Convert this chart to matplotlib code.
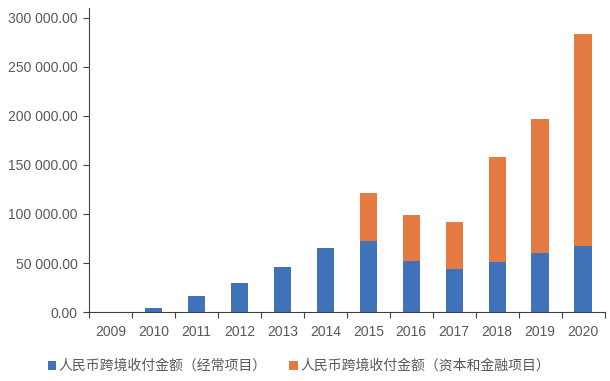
import matplotlib
matplotlib.use("Agg")
import matplotlib.pyplot as plt
import numpy as np
from matplotlib.ticker import FuncFormatter

plt.rcParams["font.family"] = ["Liberation Sans", "Noto Sans CJK SC", "DejaVu Sans"]

years = ["2009", "2010", "2011", "2012", "2013", "2014", "2015", "2016", "2017", "2018", "2019", "2020"]
current_account = [36, 3800, 15889, 29380, 46300, 65500, 72300, 52300, 43600, 51100, 60000, 67700]
capital_financial = [0, 0, 0, 0, 0, 0, 48700, 46200, 48200, 107300, 136700, 216300]
series_labels = ["人民币跨境收付金额（经常项目）", "人民币跨境收付金额（资本和金融项目）"]

BLUE = "#3F72B9"
ORANGE = "#E57B43"
GRAY = "#595959"

fig = plt.figure(figsize=(6.1, 3.81), dpi=100)
ax = fig.add_axes([0.146, 0.181, 0.845, 0.798])

x = np.arange(len(years))
ax.bar(x, current_account, width=0.4, color=BLUE, label=series_labels[0])
ax.bar(x, capital_financial, width=0.4, bottom=current_account, color=ORANGE, label=series_labels[1])

ax.set_xlim(-0.5, len(years) - 0.5)
ax.set_ylim(0, 310000)
ax.set_yticks(np.arange(0, 300001, 50000))
ax.yaxis.set_major_formatter(FuncFormatter(lambda v, _: f"{v:,.2f}".replace(",", " ")))

# boundary ticks between categories, labels centred on the bars
ax.set_xticks(np.arange(-0.5, len(years)))
ax.set_xticklabels([])
ax.set_xticks(x, minor=True)
ax.set_xticklabels(years, minor=True)
ax.tick_params(axis="x", which="minor", length=0, pad=9, labelsize=10, labelcolor=GRAY)
ax.tick_params(axis="x", which="major", length=4, direction="out", color="#404040")
ax.tick_params(axis="y", length=4, direction="out", color="#404040", labelsize=10, labelcolor=GRAY, pad=4)

for side in ("top", "right"):
    ax.spines[side].set_visible(False)
for side in ("left", "bottom"):
    ax.spines[side].set_color("#404040")
    ax.spines[side].set_linewidth(0.8)

leg = fig.legend(loc="center", bbox_to_anchor=(0.49, 0.039), ncol=2, frameon=False,
                 prop={"family": ["Noto Sans CJK SC", "DejaVu Sans"], "size": 10},
                 handlelength=0.6, handleheight=0.6, handletextpad=0.2, columnspacing=1.6,
                 borderpad=0, borderaxespad=0)
for t in leg.get_texts():
    t.set_color(GRAY)

fig.savefig("out.png", dpi=100)
